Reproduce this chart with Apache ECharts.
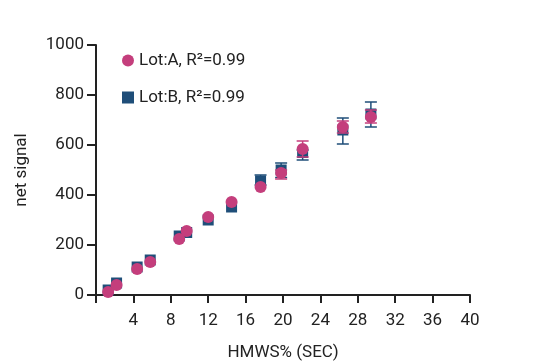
<!DOCTYPE html>
<html>
<head>
<meta charset="utf-8">
<script src="https://cdn.jsdelivr.net/npm/echarts@6/dist/echarts.min.js"></script>
<style>
  html, body { margin: 0; padding: 0; background: #fff; }
  #chart { width: 553px; height: 362px; }
</style>
</head>
<body>
<div id="chart"></div>
<script>
// HMWS% (SEC) values
const lotAX = [1.3, 2.2, 4.4, 5.8, 8.9, 9.7, 12, 14.5, 17.6, 19.8, 22.1, 26.4, 29.4]
const lotAY = [12, 40, 104, 132, 224, 256, 312, 372, 432, 488, 584, 672, 712]
const lotALow = [12, 40, 104, 132, 224, 256, 312, 372, 432, 464, 552, 648, 688]
const lotAHigh = [12, 40, 104, 132, 224, 256, 312, 372, 432, 500, 616, 696, 740]

const lotBX = [1.3, 2.2, 4.4, 5.8, 8.9, 9.7, 12, 14.5, 17.6, 19.8, 22.1, 26.4, 29.4]
const lotBY = [20, 48, 112, 140, 236, 250, 300, 352, 456, 500, 570, 660, 724]
const lotBLow = [20, 48, 112, 140, 236, 250, 300, 352, 440, 470, 540, 604, 672]
const lotBHigh = [20, 48, 112, 140, 236, 250, 300, 352, 480, 528, 580, 708, 772]

const legendNames = ['Lot:A, R²=0.99', 'Lot:B, R²=0.99']
const colors = ['#C43E7C', '#1F4E79']

const chart = echarts.init(document.getElementById('chart'))

function pairs(xs, ys) {
  return xs.map((x, i) => [x, ys[i]])
}
function errData(xs, lo, hi) {
  return xs.map((x, i) => [x, lo[i], hi[i]])
}
function errRender(color) {
  return function (params, api) {
    const x = api.value(0)
    const lo = api.coord([x, api.value(1)])
    const hi = api.coord([x, api.value(2)])
    if (Math.abs(lo[1] - hi[1]) < 1) return null
    const w = 6
    const style = { stroke: color, lineWidth: 1.5 }
    return {
      type: 'group',
      children: [
        { type: 'line', shape: { x1: lo[0], y1: lo[1], x2: hi[0], y2: hi[1] }, style: style },
        { type: 'line', shape: { x1: lo[0] - w, y1: lo[1], x2: lo[0] + w, y2: lo[1] }, style: style },
        { type: 'line', shape: { x1: hi[0] - w, y1: hi[1], x2: hi[0] + w, y2: hi[1] }, style: style }
      ]
    }
  }
}

const font = 'Roboto, "DejaVu Sans", sans-serif'

const option = {
  animation: false,
  grid: { left: 96, right: 83, top: 45, bottom: 67, containLabel: false, outerBoundsMode: 'none' },
  legend: {
    orient: 'vertical',
    left: 117,
    top: 47,
    itemGap: 20,
    itemWidth: 12,
    itemHeight: 12,
    textStyle: { fontFamily: font, fontSize: 17, color: '#222' },
    data: [
      { name: legendNames[0], icon: 'circle' },
      { name: legendNames[1], icon: 'rect' }
    ]
  },
  xAxis: {
    type: 'value',
    min: 0,
    max: 40,
    interval: 4,
    name: 'HMWS% (SEC)',
    nameLocation: 'middle',
    nameGap: 49,
    nameTextStyle: { fontFamily: font, fontSize: 17, color: '#222' },
    splitLine: { show: false },
    axisLine: { show: true, onZero: false, lineStyle: { color: '#222', width: 2 } },
    axisTick: { show: true, length: 8, lineStyle: { color: '#222', width: 2 } },
    axisLabel: {
      fontFamily: font, fontSize: 17, color: '#222', margin: 17,
      formatter: v => (v === 0 ? '' : v)
    }
  },
  yAxis: {
    type: 'value',
    min: 0,
    max: 1000,
    interval: 200,
    name: 'net signal',
    nameLocation: 'middle',
    nameGap: 66,
    nameRotate: 90,
    nameTextStyle: { fontFamily: font, fontSize: 17, color: '#222' },
    splitLine: { show: false },
    axisLine: { show: true, lineStyle: { color: '#222', width: 2 } },
    axisTick: { show: true, length: 9, lineStyle: { color: '#222', width: 2 } },
    axisLabel: {
      fontFamily: font, fontSize: 17, color: '#222', margin: 12,
      formatter: v => String(v)
    }
  },
  series: [
    {
      type: 'custom',
      renderItem: errRender(colors[1]),
      data: errData(lotBX, lotBLow, lotBHigh),
      z: 2
    },
    {
      name: legendNames[1],
      type: 'scatter',
      symbol: 'rect',
      symbolSize: 11,
      itemStyle: { color: colors[1], opacity: 1 },
      data: pairs(lotBX, lotBY),
      z: 3
    },
    {
      type: 'custom',
      renderItem: errRender(colors[0]),
      data: errData(lotAX, lotALow, lotAHigh),
      z: 4
    },
    {
      name: legendNames[0],
      type: 'scatter',
      symbol: 'circle',
      symbolSize: 12,
      itemStyle: { color: colors[0], opacity: 1 },
      data: pairs(lotAX, lotAY),
      z: 5
    }
  ]
}

chart.setOption(option)
</script>
</body>
</html>
